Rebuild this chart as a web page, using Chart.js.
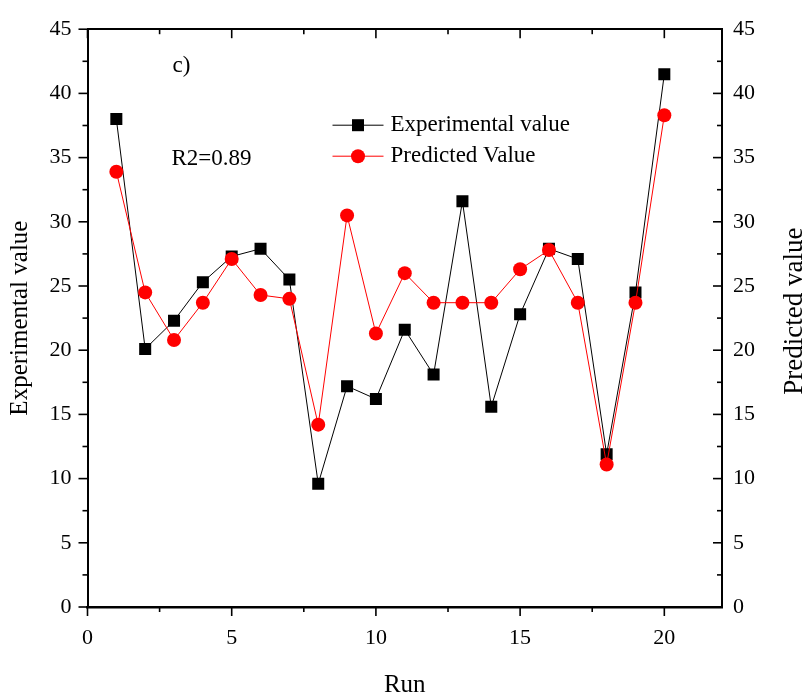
<!DOCTYPE html>
<html>
<head>
<meta charset="utf-8">
<script src="https://cdn.jsdelivr.net/npm/chart.js@4.4.1/dist/chart.umd.min.js"></script>
<style>
html,body{margin:0;padding:0;background:#fff;}
#wrap{width:809px;height:700px;position:relative;}
</style>
</head>
<body>
<div id="wrap"><canvas id="c"></canvas></div>
<script>
// ---- data ----
const runs = [1,2,3,4,5,6,7,8,9,10,11,12,13,14,15,16,17,18,19,20];
const experimental = [38.0,20.1,22.3,25.3,27.3,27.9,25.5,9.6,17.2,16.2,21.6,18.1,31.6,15.6,22.8,27.9,27.1,11.9,24.5,41.5];
const predicted = [33.9,24.5,20.8,23.7,27.1,24.3,24.0,14.2,30.5,21.3,26.0,23.7,23.7,23.7,26.3,27.8,23.7,11.1,23.7,38.3];
const xTicks = [0,5,10,15,20];
const yTicks = [0,5,10,15,20,25,30,35,40,45];
const seriesNames = ['Experimental value','Predicted Value'];
const xTitle = 'Run';
const yTitleLeft = 'Experimental value';
const yTitleRight = 'Predicted value';
const panelLabel = 'c)';
const r2Label = 'R2=0.89';

const FONT = "'Liberation Serif', 'Times New Roman', serif";
const BLACK = '#000000';
const RED = '#ff0000';

function pts(ys){ return runs.map((r,i)=>({x:r,y:ys[i]})); }

const tickPlugin = {
  id: 'customTicks',
  afterDraw(chart){
    const ctx = chart.ctx;
    const s = chart.scales;
    ctx.save();
    ctx.strokeStyle = '#000';
    ctx.lineWidth = 1.6;
    const ca = chart.chartArea;
    // x ticks (bottom outward, top inward)
    for (let v = 0; v <= 22.0001; v += 2.5) {
      const major = Math.abs(v/5 - Math.round(v/5)) < 1e-6;
      const px = s.x.getPixelForValue(v);
      const L = major ? 9 : 5;
      ctx.beginPath(); ctx.moveTo(px, ca.bottom); ctx.lineTo(px, ca.bottom + L); ctx.stroke();
      ctx.beginPath(); ctx.moveTo(px, ca.top); ctx.lineTo(px, ca.top + L); ctx.stroke();
    }
    for (let v = 0; v <= 45.0001; v += 2.5) {
      const major = Math.abs(v/5 - Math.round(v/5)) < 1e-6;
      const py = s.y.getPixelForValue(v);
      const L = major ? 9 : 5;
      ctx.beginPath(); ctx.moveTo(ca.left, py); ctx.lineTo(ca.left - L, py); ctx.stroke();
      ctx.beginPath(); ctx.moveTo(ca.right, py); ctx.lineTo(ca.right - L, py); ctx.stroke();
    }
    // legend
    const lx = ca.left + 245, ly1 = ca.top + 96, ly2 = ca.top + 127;
    ctx.lineWidth = 1;
    ctx.strokeStyle = BLACK;
    ctx.beginPath(); ctx.moveTo(lx, ly1); ctx.lineTo(lx+51, ly1); ctx.stroke();
    ctx.fillStyle = BLACK;
    ctx.fillRect(lx+25.5-6, ly1-6, 12, 12);
    ctx.strokeStyle = RED;
    ctx.beginPath(); ctx.moveTo(lx, ly2); ctx.lineTo(lx+51, ly2); ctx.stroke();
    ctx.fillStyle = RED;
    ctx.beginPath(); ctx.arc(lx+25.5, ly2, 7, 0, Math.PI*2); ctx.fill();
    ctx.fillStyle = '#000';
    ctx.font = '23px ' + FONT;
    ctx.textBaseline = 'middle';
    ctx.textAlign = 'left';
    ctx.fillText(seriesNames[0], lx + 58, ly1);
    ctx.fillText(seriesNames[1], lx + 58, ly2);
    // annotations
    ctx.fillText(panelLabel, ca.left + 85, ca.top + 37);
    ctx.fillText(r2Label, ca.left + 84, ca.top + 130);
    // right axis title, reading bottom-to-top
    ctx.save();
    ctx.translate(chart.width - 14, (ca.top + ca.bottom) / 2 - 7);
    ctx.rotate(-Math.PI / 2);
    ctx.font = '27px ' + FONT;
    ctx.textAlign = 'center';
    ctx.textBaseline = 'middle';
    ctx.fillText(yTitleRight, 0, 0);
    ctx.restore();
    ctx.restore();
  }
};

new Chart(document.getElementById('c'), {
  type: 'line',
  data: {
    datasets: [
      {
        label: seriesNames[1],
        data: pts(predicted),
        borderColor: RED,
        backgroundColor: RED,
        borderWidth: 1,
        pointStyle: 'circle',
        pointRadius: 7,
        pointHoverRadius: 7,
        pointBorderWidth: 0,
        order: 0
      },
      {
        label: seriesNames[0],
        data: pts(experimental),
        borderColor: BLACK,
        backgroundColor: BLACK,
        borderWidth: 1,
        pointStyle: 'rect',
        pointRadius: 8.5,
        pointHoverRadius: 8.5,
        pointBorderWidth: 0,
        order: 1
      }
    ]
  },
  options: {
    responsive: true,
    maintainAspectRatio: false,
    animation: false,
    events: [],
    layout: { padding: 0 },
    plugins: { legend: { display: false }, tooltip: { enabled: false }, title: { display: false } },
    scales: {
      x: {
        type: 'linear', position: 'bottom', min: 0, max: 22,
        afterBuildTicks(scale){ scale.ticks = xTicks.map(v=>({value:v})); },
        afterFit(scale){ scale.height = 93; },
        grid: { display: false, drawTicks: false },
        border: { display: true, color: '#000', width: 2.5 },
        ticks: { color: '#000', font: { family: FONT, size: 22 }, padding: 18, maxRotation: 0 },
        title: { display: true, text: xTitle, color: '#000', font: { family: FONT, size: 25 }, padding: { top: 0, bottom: 0 } }
      },
      xTop: {
        type: 'linear', position: 'top', min: 0, max: 22,
        afterFit(scale){ scale.height = 22; },
        grid: { display: false, drawTicks: false },
        border: { display: true, color: '#000', width: 2 },
        ticks: { display: false }
      },
      y: {
        type: 'linear', position: 'left', min: 0, max: 45,
        afterBuildTicks(scale){ scale.ticks = yTicks.map(v=>({value:v})); },
        afterFit(scale){ scale.width = 87.5; },
        grid: { display: false, drawTicks: false },
        border: { display: true, color: '#000', width: 2 },
        ticks: { color: '#000', font: { family: FONT, size: 22 }, padding: 16 },
        title: { display: true, text: yTitleLeft, color: '#000', font: { family: FONT, size: 25 }, padding: { top: 5, bottom: 0 } }
      },
      yRight: {
        type: 'linear', position: 'right', min: 0, max: 45,
        afterBuildTicks(scale){ scale.ticks = yTicks.map(v=>({value:v})); },
        afterFit(scale){ scale.width = 87; },
        grid: { display: false, drawTicks: false },
        border: { display: true, color: '#000', width: 2 },
        ticks: { color: '#000', font: { family: FONT, size: 22 }, padding: 11 },
        title: { display: false }
      }
    }
  },
  plugins: [tickPlugin]
});
</script>
</body>
</html>
